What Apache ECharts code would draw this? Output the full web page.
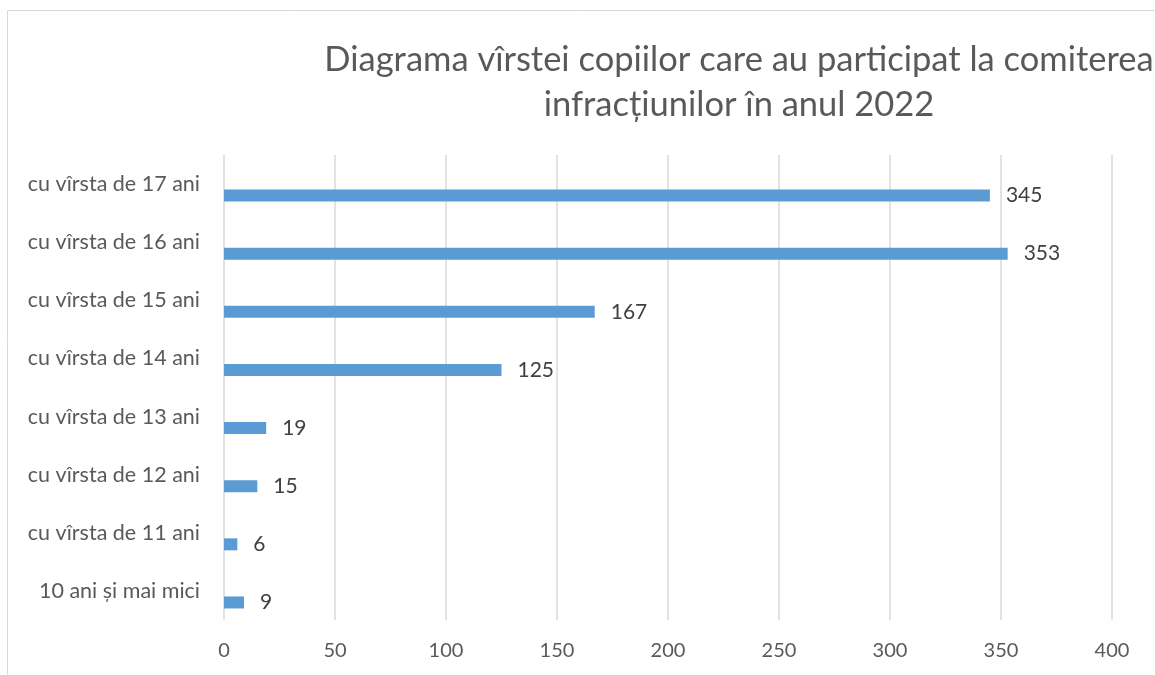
<!DOCTYPE html>
<html>
<head>
<meta charset="utf-8">
<script src="https://cdn.jsdelivr.net/npm/echarts@6/dist/echarts.min.js"></script>
<style>
  html, body { margin: 0; padding: 0; background: #fff; }
  #chart { width: 1155px; height: 675px; }
</style>
</head>
<body>
<div id="chart"></div>
<script>
// date din grafic (de jos in sus)
var categorii = ['10 ani și mai mici', 'cu vîrsta de 11 ani', 'cu vîrsta de 12 ani', 'cu vîrsta de 13 ani',
                 'cu vîrsta de 14 ani', 'cu vîrsta de 15 ani', 'cu vîrsta de 16 ani', 'cu vîrsta de 17 ani'];
var valori = [9, 6, 15, 19, 125, 167, 353, 345];
var goale = ['-', '-', '-', '-', '-', '-', '-', '-'];
var titlu = 'Diagrama vîrstei copiilor care au participat la comiterea\ninfracțiunilor în anul 2022';

var font = 'Lato';
var chart = echarts.init(document.getElementById('chart'));

var option = {
    animation: false,
    textStyle: { fontFamily: font },
    graphic: [{
        type: 'rect',
        shape: { x: 7.5, y: 10.5, width: 1160, height: 700 },
        style: { fill: 'none', stroke: '#d9d9d9', lineWidth: 1 },
        silent: true
    }],
    title: {
        text: titlu,
        left: 734,
        top: 32,
        textAlign: 'center',
        textStyle: { fontFamily: font, fontSize: 34.5, fontWeight: 'normal', color: '#595959', lineHeight: 45 }
    },
    grid: { left: 224, right: 43, top: 155, bottom: 55 },
    xAxis: {
        type: 'value',
        min: 0, max: 400, interval: 50,
        axisLine: { show: false },
        axisTick: { show: false },
        axisLabel: { fontSize: 20, color: '#595959', margin: 21 },
        splitLine: { lineStyle: { color: '#d9d9d9', width: 1.5 } }
    },
    yAxis: {
        type: 'category',
        data: categorii,
        axisLine: { show: false },
        axisTick: { show: false },
        axisLabel: { fontSize: 21.5, color: '#595959', margin: 24 }
    },
    series: [{
        type: 'bar',
        data: goale,
        barWidth: 12,
        barGap: '92%'
    }, {
        type: 'bar',
        data: valori,
        barWidth: 12,
        barGap: '92%',
        itemStyle: { color: '#5b9bd5' },
        label: { show: true, position: 'right', distance: 16, fontSize: 21, color: '#404040' }
    }]
};

chart.setOption(option);
</script>
</body>
</html>
